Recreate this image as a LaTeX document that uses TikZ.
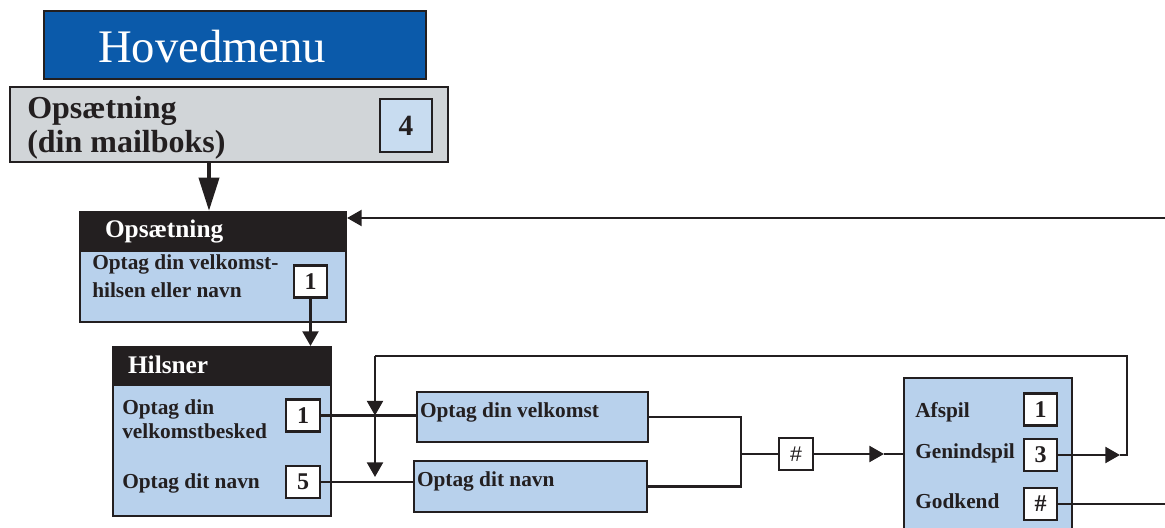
\documentclass[tikz,border=0pt]{standalone}
\usepackage{fontspec}
\setmainfont{Liberation Serif}
\newfontfamily\hashfont{Liberation Sans}
\usetikzlibrary{arrows.meta,positioning}

\definecolor{menublue}{RGB}{11,90,170}
\definecolor{panelgrey}{RGB}{209,213,216}
\definecolor{paleblue}{RGB}{184,209,236}
\definecolor{keyblue}{RGB}{200,220,240}
\definecolor{inkblack}{RGB}{35,31,32}

\tikzset{
  panel/.style={draw=inkblack, line width=1.6pt, fill=paleblue, inner sep=0pt},
  header/.style={draw=inkblack, line width=1.6pt, fill=inkblack, text=white,
    align=flush left, inner ysep=0pt, font=\fontsize{19}{21}\selectfont\bfseries},
  keybox/.style={draw=inkblack, line width=1.6pt, fill=white, inner sep=0pt,
    minimum width=25pt, minimum height=24pt, text=inkblack,
    font=\fontsize{18}{18}\selectfont\bfseries},
  entry/.style={inner sep=0pt, anchor=base west, align=left, text=inkblack,
    font=\fontsize{16}{18}\selectfont\bfseries},
  wire/.style={line width=1.8pt, draw=inkblack},
  bigwire/.style={line width=3pt, draw=inkblack, -{Triangle[length=25pt,width=15pt]}}
}

\begin{document}
\begin{tikzpicture}[x=0.75pt, y=-0.75pt, >={Triangle[length=11pt,width=12pt]}]
  \useasboundingbox (0,0) rectangle (1165,528);

  % main menu and its entry
  \node (hoved)
        [draw=inkblack, line width=1.6pt, fill=menublue, text=white,
         text width=205.5pt, inner xsep=40.5pt, inner ysep=0pt, minimum height=51pt,
         text height=27pt, text depth=0pt, align=flush left,
         font=\fontsize{35}{35}\selectfont]
        at (235,45) {Hovedmenu};
  \node (setup)
        [draw=inkblack, line width=1.6pt, fill=panelgrey, minimum width=328.5pt, minimum height=56.25pt]
        at (229,124.5) {};
  % base anchor sits on the last line
  \node (setupText)
        [entry, font=\fontsize{24}{25.5}\selectfont\bfseries]
        at (27,152) {Opsætning\\(din mailboks)};
  \node (setupKey)
        [keybox, fill=keyblue, minimum width=39pt, minimum height=39.75pt,
         font=\fontsize{22}{22}\selectfont\bfseries]
        at (406,125.5) {4};

  % setup panel
  \node (opsetHead)
        [header, text width=162pt, inner xsep=18.75pt, minimum height=27.75pt,
         text height=13.5pt, text depth=3.75pt]
        at (213,230.5) {Opsætning};
  \node (opsetBody)
        [panel, minimum width=199.5pt, minimum height=53.25pt, below=0pt of opsetHead]
        {};
  \node (opsetItem)
        [entry, font=\fontsize{16}{21}\selectfont\bfseries]
        at (92,297) {Optag din velkomst-\\hilsen eller navn};
  \node (opsetKey) [keybox] at (310.5,281.5) {1};

  % greetings panel
  \node (hilsHead)
        [header, text width=141pt, inner xsep=11.25pt, minimum height=27pt,
         text height=15pt, text depth=3pt]
        at (222,365) {Hilsner};
  \node (hilsBody)
        [panel, minimum width=163.5pt, minimum height=98.25pt, below=0pt of hilsHead]
        {};
  \node (hilsItemA) [entry] at (122,438) {Optag din\\velkomstbesked};
  \node (hilsItemB) [entry] at (122,488) {Optag dit navn};
  \node (hilsKeyA) [keybox] at (303,415.5) {1};
  \node (hilsKeyB) [keybox] at (303,482) {5};

  % recording boxes
  \node (velkomst)
        [panel, text width=168.75pt, inner xsep=2.25pt, minimum height=37.5pt,
         text height=8pt, text depth=8pt, align=flush left, text=inkblack,
         font=\fontsize{16}{18}\selectfont\bfseries]
        at (532.5,417) {Optag din velkomst};
  \node (navn)
        [panel, text width=170.25pt, inner xsep=2.25pt, minimum height=38.25pt,
         text height=8pt, text depth=8pt, align=flush left, text=inkblack,
         font=\fontsize{16}{18}\selectfont\bfseries]
        at (530.5,486.5) {Optag dit navn};
  \node (hash)
        [keybox, font=\fontsize{16}{16}\selectfont\hashfont]
        at (796,454) {\#};

  % review panel
  \node (review)
        [panel, minimum width=126pt, minimum height=127.5pt]
        at (988,463) {};
  \node (reviewItemA) [entry] at (915,417) {Afspil};
  \node (reviewItemB) [entry] at (915,458) {Genindspil};
  \node (reviewItemC) [entry] at (915,508) {Godkend};
  \node (reviewKeyA) [keybox] at (1040.5,409.5) {1};
  \node (reviewKeyB) [keybox] at (1040.5,455) {3};
  \node (reviewKeyC) [keybox] at (1040.5,504) {\#};

  \coordinate (setupOut) at (209,162);
  \coordinate (returnIn) at (1165,218);
  \coordinate (join) at (741,454);
  \coordinate (reviewIn) at (884,454);
  \coordinate (loopTip) at (1120,455);
  \coordinate (loopCorner) at (1127,356);
  \coordinate (loopLeft) at (375,356);
  \coordinate (loopDrop) at (375,477);
  \coordinate (approveOut) at (1165,504);

  \draw[bigwire] (setupOut) -- (setupOut |- opsetHead.north);
  \draw[wire,->] (returnIn) -- (returnIn -| opsetHead.east);
  \draw[wire,->] (opsetKey) -- (opsetKey |- hilsHead.north);
  \draw[wire] (hilsKeyA) -- (velkomst.west |- hilsKeyA);
  \draw[wire] (hilsKeyB) -- (navn.west |- hilsKeyB);
  \draw[wire] (velkomst.east) -| (join) |- (navn.east);
  \draw[wire] (join) -- (hash);
  \draw[wire,->] (hash) -- (reviewIn);
  \draw[wire] (reviewIn) -- (review.west |- reviewIn);
  \draw[wire,->] (reviewKeyB) -- (loopTip);
  \draw[wire] (loopTip) -| (loopCorner) -- (loopLeft);
  \draw[wire,->] (loopLeft) -- (loopLeft |- hilsKeyA);
  \draw[wire,->] (loopLeft |- hilsKeyA) -- (loopDrop);
  \draw[wire] (reviewKeyC) -- (approveOut);
\end{tikzpicture}
\end{document}
